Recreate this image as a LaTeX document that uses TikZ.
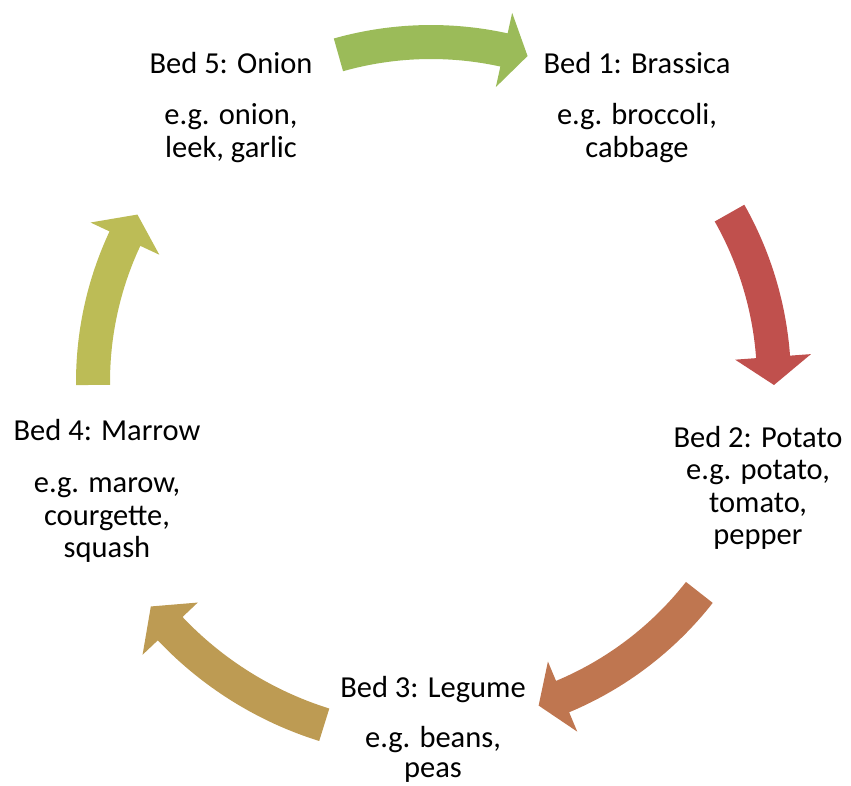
\documentclass[tikz,border=0pt]{standalone}
\usepackage{fontspec}
\setmainfont{Carlito}
\definecolor{arRed}{HTML}{C0504D}
\definecolor{arOrange}{HTML}{BF7650}
\definecolor{arBronze}{HTML}{BD9B53}
\definecolor{arOlive}{HTML}{BCBC56}
\definecolor{arGreen}{HTML}{9BBB59}
\newcommand\circarrow[5]{%
  % #1 colour, #2 radius, #3 tail angle, #4 head-base angle, #5 tip angle
  \pgfmathsetmacro\rOut{#2+17}\pgfmathsetmacro\rIn{#2-17}%
  \pgfmathsetmacro\hOut{#2+38}\pgfmathsetmacro\hIn{#2-38}%
  \fill[#1] (#3:\rOut) arc[start angle=#3, end angle=#4, radius=\rOut]
    -- (#4:\hOut) -- (#5:#2) -- (#4:\hIn) -- (#4:\rIn)
    arc[start angle=#4, end angle=#3, radius=\rIn] -- cycle;}
\begin{document}
\begin{tikzpicture}[x=1pt,y=1pt,
  bedtext/.style={align=center, inner sep=0pt, anchor=north,
    font=\fontsize{30.5}{32.5}\selectfont}]
\path[use as bounding box] (0,0) rectangle (851,-785);
\begin{scope}[shift={(431,-382)}]
  \circarrow{arGreen}{340}{105.8}{77.6}{73.5}
  \circarrow{arRed}{343}{29.5}{4.2}{-0.5}
  \circarrow{arOrange}{341}{-38.1}{-67.3}{-71.6}
  \circarrow{arBronze}{359}{-107.3}{-136.6}{-141.3}
  \circarrow{arOlive}{338}{180.5}{154.9}{150.3}
\end{scope}
\node[bedtext] (bed1) at (637,-51.7) {Bed 1: Brassica\\[19pt]e.g. broccoli,\\cabbage};
\node[bedtext] (bed2) at (758,-425.7) {Bed 2: Potato\\e.g. potato,\\tomato,\\pepper};
\node[bedtext] (bed3) at (433,-675.7) {Bed 3: Legume\\[17.5pt]e.g. beans,\\[-2.5pt]peas};
\node[bedtext] (bed4) at (107,-418.7) {Bed 4: Marrow\\[20pt]e.g. marow,\\courgette,\\squash};
\node[bedtext] (bed5) at (231,-51.7) {Bed 5: Onion\\[19pt]e.g. onion,\\leek, garlic};
\end{tikzpicture}
\end{document}
